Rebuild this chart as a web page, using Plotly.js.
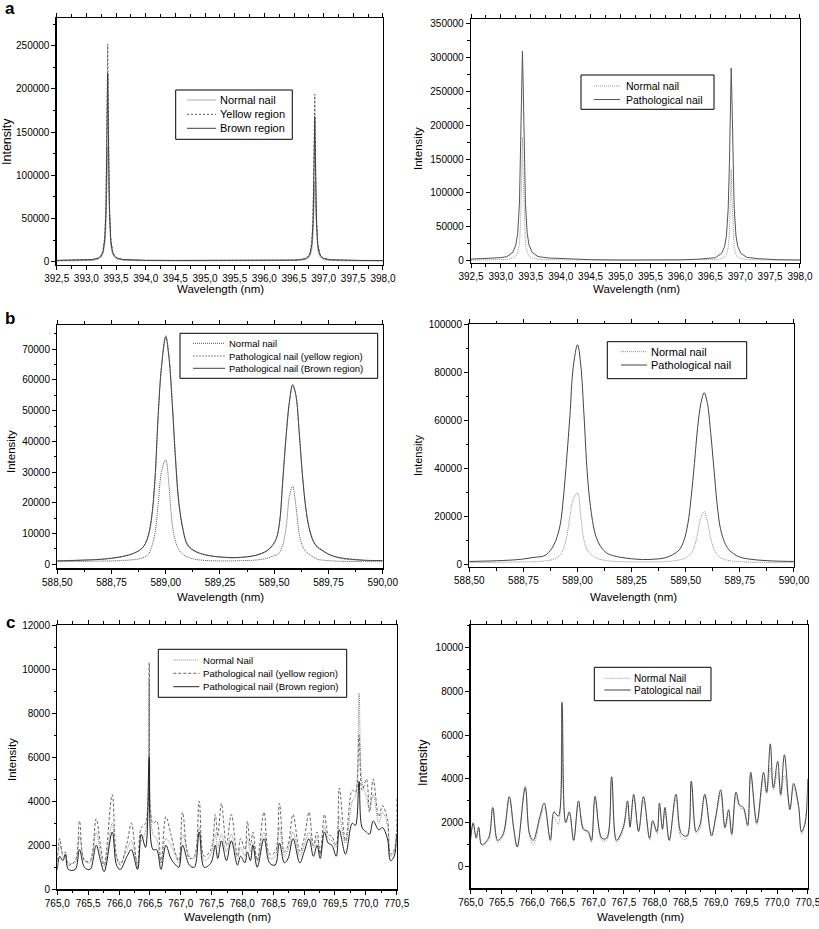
<!DOCTYPE html>
<html><head><meta charset="utf-8">
<script src="https://cdn.plot.ly/plotly-3.0.1.min.js"></script>
<style>html,body{margin:0;padding:0;background:#fff}#chart{width:819px;height:929px}</style>
</head><body><div id="chart"></div>
<script>
// ---------- Panel a : Ca II lines ----------
const a_wl = [392.5, 392.7, 392.9, 393.0, 393.1, 393.2, 393.25, 393.28, 393.31, 393.33, 393.345, 393.36, 393.375, 393.39, 393.41, 393.44, 393.47, 393.52, 393.62, 393.8, 394.0, 394.5, 395.0, 395.5, 396.0, 396.3, 396.49, 396.59, 396.69, 396.74, 396.77, 396.80, 396.82, 396.835, 396.85, 396.865, 396.88, 396.90, 396.93, 396.96, 397.01, 397.11, 397.3, 397.6, 398.0];
const a1_normal = [900, 950, 1000, 1200, 1300, 3000, 5300, 8900, 19400, 42000, 86100, 133000, 86100, 42000, 19400, 8900, 5300, 3000, 1800, 1300, 1100, 1000, 1000, 900, 1000, 1100, 1300, 1500, 2400, 3900, 6400, 13700, 29300, 59900, 92000, 59900, 29300, 13700, 6400, 3900, 2400, 1500, 1100, 1000, 900];
const a1_yellow = [1300, 1350, 1500, 1800, 2300, 4200, 7400, 12700, 28700, 65200, 146200, 252000, 146200, 65200, 28700, 12700, 7400, 4200, 2300, 1600, 1400, 1300, 1200, 1200, 1300, 1400, 1650, 2100, 3500, 6000, 10100, 22300, 50500, 112900, 194000, 112900, 50500, 22300, 10100, 6000, 3500, 2100, 1500, 1300, 1200];
const a1_brown = [1600, 1650, 1800, 2000, 2500, 4100, 6900, 11500, 25300, 56900, 127100, 218000, 127100, 56900, 25300, 11500, 6900, 4100, 2500, 1850, 1650, 1500, 1400, 1300, 1400, 1600, 1900, 2300, 3500, 5600, 9200, 19800, 44200, 98300, 168000, 98300, 44200, 19800, 9200, 5600, 3500, 2300, 1700, 1500, 1400];
const a2_normal = [900, 1000, 1200, 1500, 1800, 3800, 6800, 11700, 26100, 57000, 117500, 182000, 117500, 57000, 26100, 11700, 6800, 3800, 2000, 1500, 1200, 1000, 800, 800, 900, 1100, 1400, 1800, 3100, 5300, 9000, 19600, 42600, 87400, 135000, 87400, 42600, 19600, 9000, 5300, 3100, 1800, 1300, 1000, 900];
const a2_path = [2300, 3000, 3800, 4500, 6000, 12500, 23300, 40000, 84000, 156500, 249000, 309000, 249000, 156500, 84000, 40000, 23300, 12500, 6000, 4000, 3000, 1500, 1000, 900, 1200, 2200, 3000, 4500, 11000, 21000, 36500, 77000, 143500, 229000, 284000, 229000, 143500, 77000, 36500, 21000, 11000, 5000, 3000, 1500, 1000];
const a_ticks = [392.5, 393.0, 393.5, 394.0, 394.5, 395.0, 395.5, 396.0, 396.5, 397.0, 397.5, 398.0];
const a_ticktext = ['392,5','393,0','393,5','394,0','394,5','395,0','395,5','396,0','396,5','397,0','397,5','398,0'];

// ---------- Panel b : Na D lines ----------
const b_wl = [588.50, 588.60, 588.70, 588.75, 588.80, 588.85, 588.88, 588.90, 588.92, 588.935, 588.95, 588.965, 588.98, 589.00, 589.015, 589.03, 589.045, 589.06, 589.08, 589.10, 589.13, 589.16, 589.20, 589.25, 589.30, 589.35, 589.40, 589.44, 589.47, 589.49, 589.51, 589.525, 589.54, 589.555, 589.57, 589.585, 589.60, 589.615, 589.63, 589.645, 589.66, 589.68, 589.70, 589.72, 589.75, 589.80, 589.90, 590.00];
const b1_normal = [900, 950, 1050, 1100, 1250, 1500, 1800, 2300, 3300, 5700, 10000, 19500, 30000, 34000, 25500, 13000, 7500, 4800, 3200, 2400, 1700, 1400, 1200, 1100, 1100, 1200, 1300, 1600, 2000, 2600, 3000, 3900, 6500, 12000, 22000, 25500, 19000, 10000, 6000, 4200, 3300, 2400, 1600, 1400, 1200, 1000, 900, 900];
const b1_yellow = [1200, 1350, 1700, 2050, 2600, 3600, 4700, 6100, 9300, 15000, 27000, 48000, 64500, 74500, 68000, 53000, 35000, 21000, 11500, 6600, 4600, 3600, 2900, 2300, 2100, 2200, 2700, 3400, 4500, 5900, 8300, 13500, 27500, 41500, 52500, 58000, 55000, 43500, 29500, 19000, 12500, 7800, 5700, 4700, 3300, 2000, 1300, 1200];
const b1_brown = [1100, 1300, 1600, 1950, 2500, 3500, 4600, 6000, 9500, 15500, 27500, 48500, 64000, 74000, 67000, 52000, 34000, 20000, 11000, 6300, 4400, 3500, 2800, 2400, 2200, 2300, 2700, 3500, 4600, 6000, 8500, 14000, 28000, 42000, 53000, 58500, 55000, 43000, 29000, 18500, 12000, 7500, 5500, 4600, 3300, 2200, 1400, 1200];
const b2_normal = [700, 800, 900, 1000, 1100, 1400, 1800, 2500, 4000, 6500, 11500, 20000, 27000, 29800, 20000, 10000, 6000, 4300, 3000, 2200, 1600, 1300, 1100, 1000, 1000, 1000, 1100, 1400, 1800, 2300, 3200, 4500, 7500, 13000, 19500, 22000, 18000, 11000, 6500, 4000, 2800, 2000, 1500, 1300, 1100, 900, 800, 700];
const b2_path = [1200, 1400, 1800, 2200, 2900, 3700, 6500, 10000, 16500, 28000, 44000, 62000, 82000, 91500, 83000, 62000, 38000, 24000, 13200, 8500, 5000, 3700, 2900, 2300, 2000, 2100, 2600, 4000, 6000, 9500, 17000, 28000, 42000, 57000, 67000, 71500, 67000, 55000, 40000, 25000, 15000, 9000, 6000, 4500, 3000, 2100, 1400, 1200];
const b_ticks = [588.50, 588.75, 589.00, 589.25, 589.50, 589.75, 590.00];
const b_ticktext = ['588,50','588,75','589,00','589,25','589,50','589,75','590,00'];

// ---------- Panel c : K lines ----------
const c_wl = [765.00, 765.04, 765.09, 765.13, 765.18, 765.29, 765.36, 765.44, 765.53, 765.63, 765.70, 765.76, 765.89, 765.96, 766.02, 766.13, 766.20, 766.30, 766.36, 766.43, 766.49, 766.55, 766.61, 766.68, 766.76, 766.84, 766.92, 766.97, 767.03, 767.14, 767.22, 767.30, 767.38, 767.49, 767.56, 767.60, 767.66, 767.74, 767.82, 767.92, 767.97, 768.04, 768.08, 768.13, 768.17, 768.24, 768.35, 768.44, 768.53, 768.60, 768.68, 768.74, 768.82, 768.93, 769.00, 769.08, 769.15, 769.21, 769.26, 769.33, 769.39, 769.45, 769.52, 769.57, 769.67, 769.78, 769.83, 769.89, 769.94, 770.01, 770.06, 770.12, 770.21, 770.27, 770.35, 770.40, 770.46, 770.50];
const c1_normal = [1500, 2000, 1500, 1400, 1200, 1200, 2400, 1300, 1200, 2600, 1600, 1000, 3000, 1400, 1200, 1800, 2200, 1200, 2200, 2600, 9500, 2500, 2300, 1200, 2300, 2000, 1500, 1200, 2500, 1500, 1400, 2800, 1300, 1600, 2500, 1900, 2500, 1700, 2500, 1400, 1900, 1500, 2300, 1700, 2100, 1300, 2600, 1400, 1500, 2800, 1500, 1800, 2600, 1500, 2000, 2600, 1900, 2300, 1600, 2800, 2300, 2200, 1900, 3300, 2100, 4000, 4200, 8900, 4800, 4200, 3600, 4300, 3000, 3500, 2900, 1500, 1700, 3000];
const c1_yellow = [1300, 2300, 1600, 1700, 1100, 1300, 3100, 1300, 1300, 3200, 2000, 1100, 4300, 1500, 1100, 2100, 3000, 1000, 2800, 3000, 10300, 3000, 3100, 1200, 3300, 2500, 1600, 1300, 3500, 1400, 1500, 4000, 1500, 1800, 3400, 2400, 3900, 2000, 3400, 1500, 2300, 1800, 3100, 2000, 2600, 1300, 3500, 1600, 1700, 3900, 1700, 2000, 3400, 1700, 2300, 3500, 2000, 2600, 1600, 3400, 2500, 2400, 2000, 4600, 2200, 4500, 4400, 7000, 4500, 5000, 3500, 5000, 3300, 3800, 3200, 1600, 1800, 4200];
const c1_brown = [900, 1500, 1300, 1600, 900, 900, 1800, 1000, 900, 2000, 1300, 800, 2600, 1100, 900, 1500, 1800, 900, 2500, 1900, 6000, 1800, 1800, 900, 2000, 1400, 1100, 1000, 2000, 1100, 1000, 2600, 1000, 1200, 2000, 1400, 2200, 1300, 2200, 1100, 1500, 1200, 1700, 1300, 2000, 1000, 2300, 1200, 1100, 2100, 1200, 1400, 2300, 1200, 1700, 2300, 1500, 2000, 1400, 2600, 2100, 2000, 1500, 2700, 1600, 3000, 2900, 4900, 2800, 2600, 2500, 3100, 2700, 2800, 2300, 1300, 1500, 2500];
const c2_normal = [1200, 1900, 1400, 1700, 1000, 1200, 2600, 1100, 1400, 3000, 1700, 900, 3700, 1400, 1000, 2100, 2700, 1300, 2300, 1900, 6100, 2100, 2400, 1200, 2800, 1800, 1500, 1100, 3000, 1200, 1200, 3900, 1100, 1700, 2800, 1900, 3100, 1700, 3000, 1200, 2000, 1500, 2700, 1800, 2500, 1200, 3100, 1300, 1300, 3700, 1500, 1700, 3200, 1500, 2200, 3300, 1700, 2400, 1400, 3200, 2700, 2600, 1800, 4100, 1900, 4000, 3300, 4500, 3500, 4300, 3200, 4200, 2700, 3600, 2700, 1500, 2100, 3800];
const c2_path = [1300, 2000, 1300, 1800, 1000, 1300, 2700, 1200, 1500, 3200, 1800, 900, 3600, 1500, 1200, 2300, 2900, 1200, 2500, 2300, 7500, 2000, 2500, 1200, 3000, 1700, 1600, 1200, 3200, 1300, 1300, 4100, 1200, 1800, 3000, 1800, 3300, 1600, 3200, 1300, 2100, 1600, 2900, 1700, 2700, 1200, 3300, 1500, 1400, 3900, 1600, 1900, 3300, 1400, 2300, 3500, 1800, 2600, 1500, 3400, 2800, 2700, 1900, 4300, 2000, 4300, 3400, 5600, 3600, 4800, 3300, 5100, 2600, 3800, 2800, 1600, 2000, 4000];
const c_ticks = [765.0, 765.5, 766.0, 766.5, 767.0, 767.5, 768.0, 768.5, 769.0, 769.5, 770.0, 770.5];
const c_ticktext = ['765,0','765,5','766,0','766,5','767,0','767,5','768,0','768,5','769,0','769,5','770,0','770,5'];

const W = 819, H = 929;
const FONT = 'Liberation Sans, Arial, Helvetica, sans-serif';
function L(name, x, y, xa, ya, color, dash, shape) {
  return {type:'scatter', mode:'lines', name:name, x:x, y:y, xaxis:xa, yaxis:ya, showlegend:false,
    line:{color:color, dash:dash, width:1, shape:shape||'linear', smoothing:1}, hoverinfo:'skip'};
}
const traces = [
  L('Normal nail', a_wl, a1_normal, 'x', 'y', '#b0b0b0', 'solid'),
  L('Yellow region', a_wl, a1_yellow, 'x', 'y', '#555555', '2px,2px'),
  L('Brown region', a_wl, a1_brown, 'x', 'y', '#404040', 'solid'),
  L('Normal nail', a_wl, a2_normal, 'x2', 'y2', '#999999', '1px,1px'),
  L('Pathological nail', a_wl, a2_path, 'x2', 'y2', '#555555', 'solid'),
  L('Normal nail', b_wl, b1_normal, 'x3', 'y3', '#555555', '1px,1px', 'spline'),
  L('Pathological nail (yellow region)', b_wl, b1_yellow, 'x3', 'y3', '#888888', '2px,1px', 'spline'),
  L('Pathological nail (Brown region)', b_wl, b1_brown, 'x3', 'y3', '#444444', 'solid', 'spline'),
  L('Normal nail', b_wl, b2_normal, 'x4', 'y4', '#888888', '1px,1px', 'spline'),
  L('Pathological nail', b_wl, b2_path, 'x4', 'y4', '#444444', 'solid', 'spline'),
  L('Normal Nail', c_wl, c1_normal, 'x5', 'y5', '#888888', '1px,1px', 'spline'),
  L('Pathological nail (yellow region)', c_wl, c1_yellow, 'x5', 'y5', '#666666', '3px,2px', 'spline'),
  L('Pathological nail (Brown region)', c_wl, c1_brown, 'x5', 'y5', '#222222', 'solid', 'spline'),
  L('Normal Nail', c_wl, c2_normal, 'x6', 'y6', '#999999', '1px,1px', 'spline'),
  L('Patological nail', c_wl, c2_path, 'x6', 'y6', '#444444', 'solid', 'spline')
];

function px(x0, x1){ return [x0/W, x1/W]; }
function py(top, bot){ return [1-bot/H, 1-top/H]; }
function xax(dom, anchor, range, tv, tt, minorDt) {
  return {domain:dom, anchor:anchor, range:range, tickmode:'array', tickvals:tv, ticktext:tt,
    showline:true, linecolor:'#000', linewidth:1.3, mirror:'allticks', ticks:'outside', ticklen:4,
    tickwidth:1, tickcolor:'#000', minor:{dtick:minorDt, ticks:'outside', ticklen:2.5, tickwidth:1, tickcolor:'#000', showgrid:false},
    ticklabeloverflow:'allow',
    showgrid:false, zeroline:false, fixedrange:true, tickfont:{family:FONT, size:10, color:'#000'}};
}
function yax(dom, anchor, range, dt, minorDt) {
  return {domain:dom, anchor:anchor, range:range, dtick:dt, tick0:0, tickformat:'d',
    showline:true, linecolor:'#000', linewidth:1.3, mirror:true, ticks:'outside', ticklen:4,
    tickwidth:1, tickcolor:'#000', minor:{dtick:minorDt, ticks:'outside', ticklen:2.5, tickwidth:1, tickcolor:'#000', showgrid:false},
    showgrid:false, zeroline:false, fixedrange:true, tickfont:{family:FONT, size:10, color:'#000'}};
}
function ann(text, x, y, size, rot, bold, xanchor) {
  return {text: bold ? '<b>'+text+'</b>' : text, x:x/W, y:1-y/H, xref:'paper', yref:'paper', showarrow:false,
    xanchor:xanchor||'center', yanchor:'middle', textangle:rot||0, font:{family:FONT, size:size, color:'#000'}};
}

// Legend boxes drawn as shapes + text, built from the traces' own names and styles
const legendSpecs = [
  {box:[175.7, 292.3, 90, 139.3], line:[187, 216], tx:218, ys:[100, 114.3, 128.3], size:11, items:[0,1,2]},
  {box:[581, 714, 75, 109.3], line:[594, 620], tx:624, ys:[86, 99.5], size:10.5, items:[3,4]},
  {box:[180, 377.7, 333.3, 378.3], line:[193, 225], tx:227, ys:[343.3, 356, 368.3], size:9.5, items:[5,6,7]},
  {box:[607.3, 746.7, 341.7, 378.7], line:[621, 647], tx:648.5, ys:[351.7, 365], size:11, items:[8,9]},
  {box:[158.3, 346.7, 649.3, 697.3], line:[173.3, 199.3], tx:201, ys:[660, 673.3, 686.7], size:9.6, items:[10,11,12]},
  {box:[594.3, 711, 667.3, 700.7], line:[604.3, 630.7], tx:632.3, ys:[678.3, 690], size:10, items:[13,14]}
];
const shapes = [];
const annotations = [];
legendSpecs.forEach(s => {
  shapes.push({type:'rect', xref:'paper', yref:'paper', x0:s.box[0]/W, x1:s.box[1]/W, y0:1-s.box[3]/H, y1:1-s.box[2]/H,
    line:{color:'#000', width:1}, fillcolor:'#fff', layer:'above'});
  s.items.forEach((ti, k) => {
    const tr = traces[ti];
    shapes.push({type:'line', xref:'paper', yref:'paper', x0:s.line[0]/W, x1:s.line[1]/W, y0:1-s.ys[k]/H, y1:1-s.ys[k]/H,
      line:{color:tr.line.color, width:1, dash:tr.line.dash}, layer:'above'});
    annotations.push(ann(tr.name, s.tx, s.ys[k], s.size, 0, false, 'left'));
  });
});
annotations.push(
  ann('a', 10, 8, 17, 0, true), ann('b', 10, 318, 17, 0, true), ann('c', 10, 622, 17, 0, true),
  ann('Wavelength (nm)', 220, 289, 11.5), ann('Wavelength (nm)', 636, 289, 11.5),
  ann('Wavelength (nm)', 220, 597, 11.5), ann('Wavelength (nm)', 633, 597, 11.5),
  ann('Wavelength (nm)', 227, 917, 11.5), ann('Wavelength (nm)', 640, 917, 11.5),
  ann('Intensity', 7, 142, 12.5, -90), ann('Intensity', 418, 148, 11.5, -90),
  ann('Intensity', 11, 452, 11.5, -90), ann('Intensity', 418, 455, 11, -90),
  ann('Intensity', 12, 760, 11.5, -90), ann('Intensity', 423, 763, 12.5, -90)
);

const layout = {
  width:W, height:H, margin:{l:0, r:0, t:0, b:0}, paper_bgcolor:'#fff', plot_bgcolor:'#fff', showlegend:false,
  xaxis: xax(px(56.7, 383), 'y', [392.5, 398.0001], a_ticks, a_ticktext, 0.25),
  yaxis: yax(py(18, 265), 'x', [-3820, 282060], 50000, 25000),
  xaxis2: xax(px(471, 800), 'y2', [392.5, 398.0001], a_ticks, a_ticktext, 0.25),
  yaxis2: yax(py(19, 263), 'x2', [-3390, 356500], 50000, 25000),
  xaxis3: xax(px(57.3, 382.7), 'y3', [588.5, 590.0001], b_ticks, b_ticktext, 0.125),
  yaxis3: yax(py(325, 568.3), 'x3', [-1300, 77900], 10000, 5000),
  xaxis4: xax(px(469.3, 794), 'y4', [588.5, 590.0001], b_ticks, b_ticktext, 0.125),
  yaxis4: yax(py(324.3, 566.7), 'x4', [-1000, 100000], 20000, 10000),
  xaxis5: xax(px(57.3, 396.7), 'y5', [765, 770.5001], c_ticks, c_ticktext, 0.25),
  yaxis5: yax(py(625, 889.3), 'x5', [0, 12000], 2000, 1000),
  xaxis6: xax(px(470.7, 807.7), 'y6', [765, 770.5001], c_ticks, c_ticktext, 0.25),
  yaxis6: yax(py(625, 888.3), 'x6', [-985, 11016], 2000, 1000),
  shapes: shapes,
  annotations: annotations
};
Plotly.newPlot('chart', traces, layout, {displayModeBar:false, staticPlot:true});
</script></body></html>
